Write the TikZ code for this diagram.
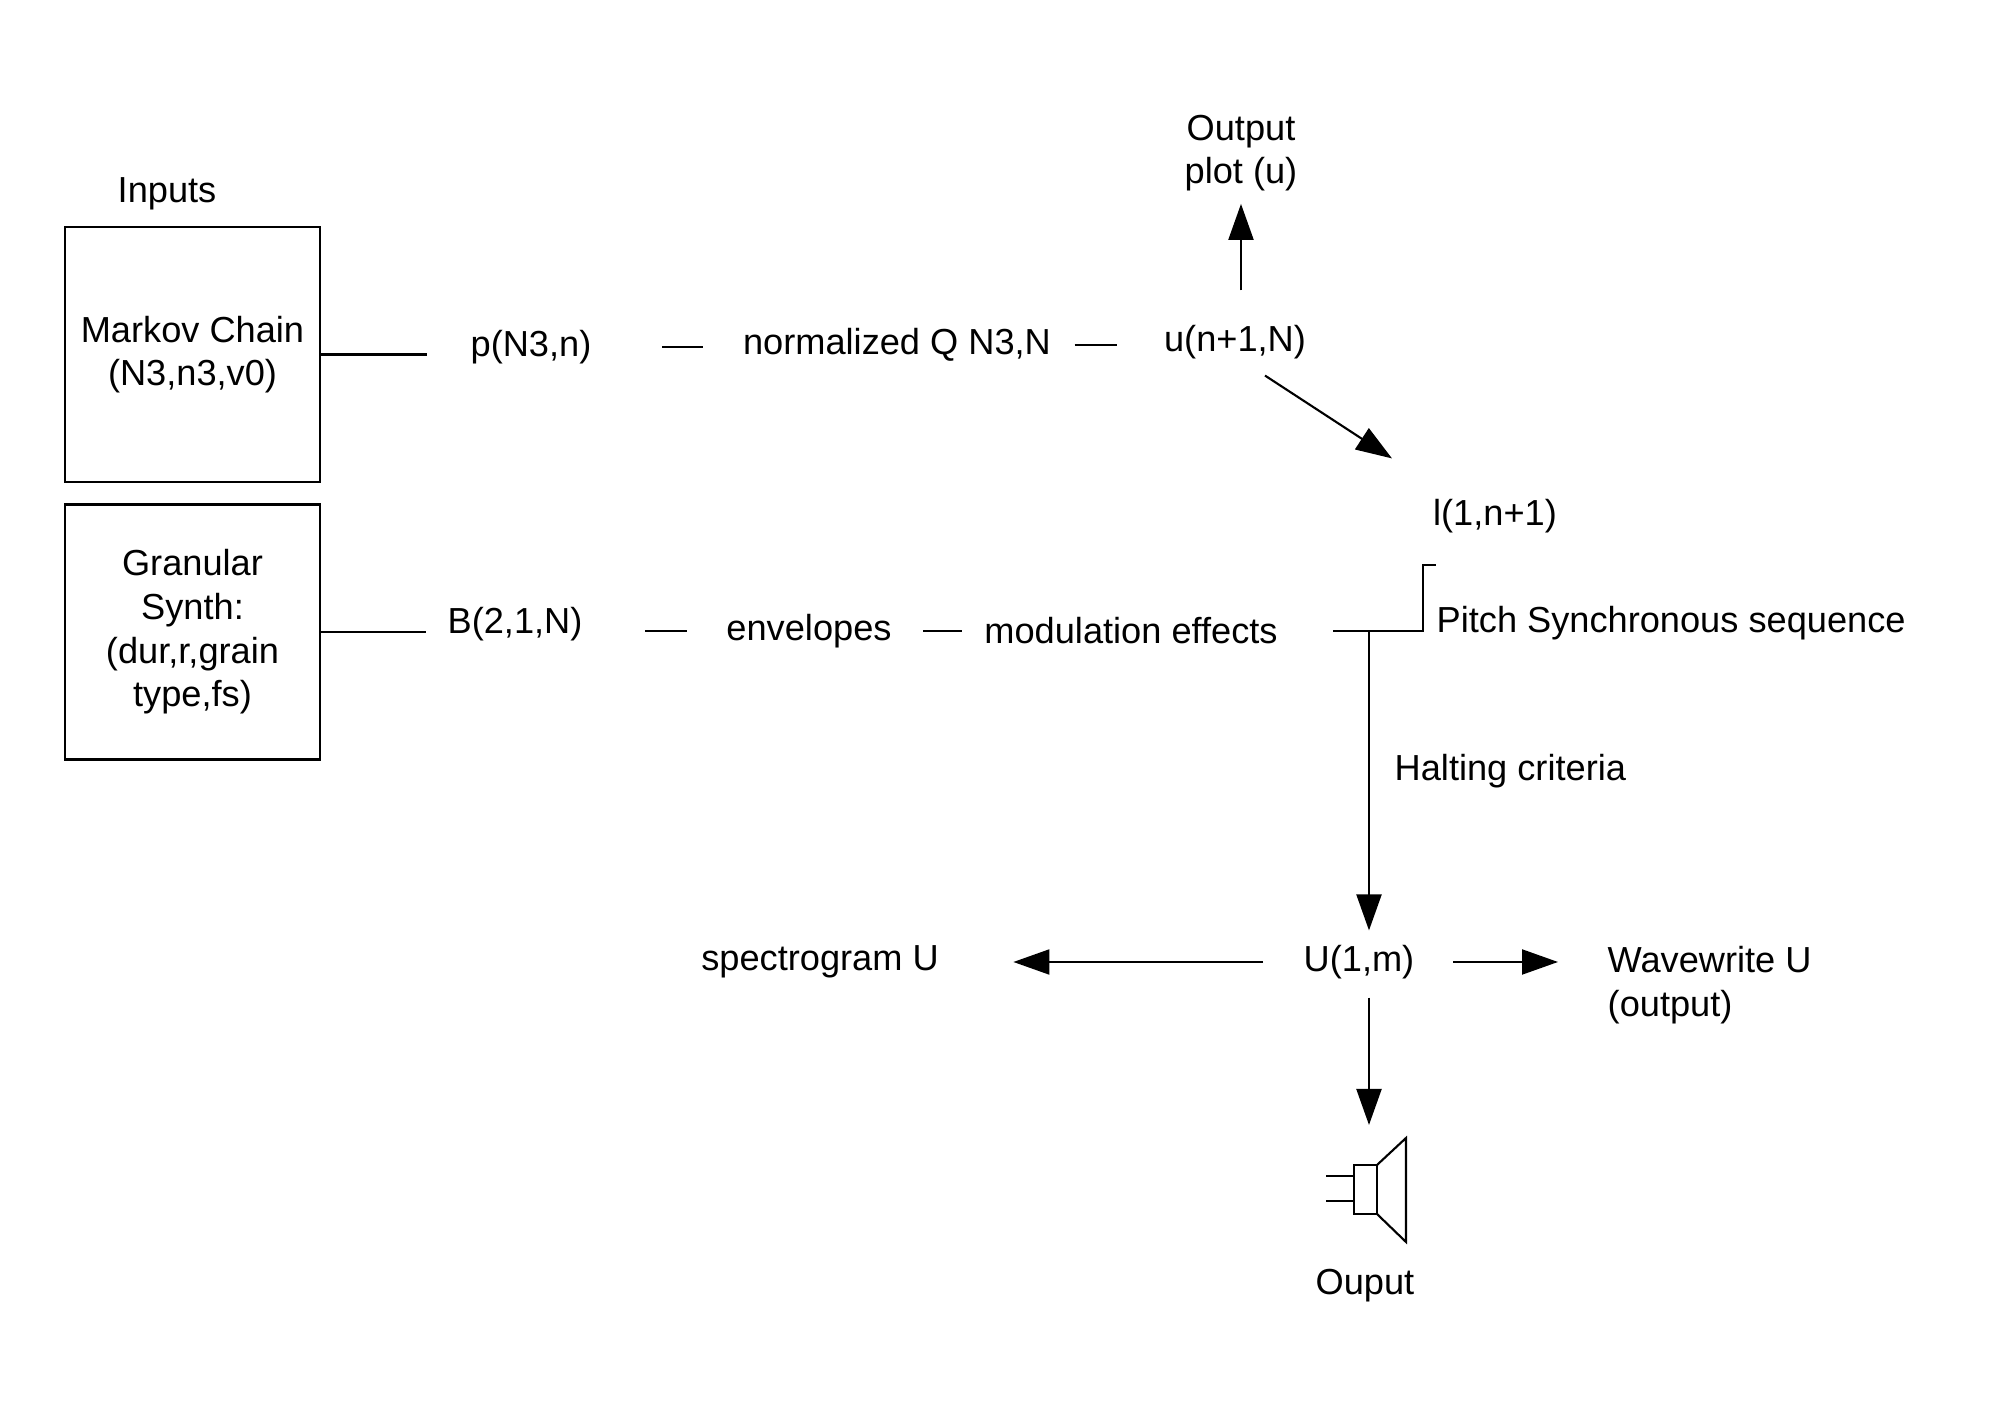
\documentclass[tikz,border=0pt]{standalone}
\usepackage{fontspec}
\setmainfont{Liberation Sans}
\usetikzlibrary{calc,arrows.meta}
\tikzset{
	lbl/.style={inner sep=0pt, font=\fontsize{10.3}{12.4}\selectfont, align=center},
	inbox/.style={draw, line width=0.7pt, minimum width=2.55cm, minimum height=2.55cm, inner sep=0pt, font=\fontsize{10.3}{12.4}\selectfont, align=center},
	wire/.style={line width=0.6pt},
	flow/.style={wire, -{Triangle[length=0.36cm,width=0.25cm]}}
}

\begin{document}
\begin{tikzpicture}
			%%%%% START %%%%%
			\useasboundingbox (0,0) rectangle (19.99,14.11);
			
			\node[lbl] (inputs) at (1.67, 12.17) {Inputs};
			\node[inbox] (markov) at (1.925, 10.565) {Markov Chain\\(N3,n3,v0)};
			\node[inbox] (granular) at (1.925, 7.79) {Granular\\Synth:\\(dur,r,grain\\type,fs)};
			
			\node[lbl] (pN) at (5.31, 10.64) {p(N3,n)};
			\node[lbl] (normQ) at (8.97, 10.66) {normalized Q N3,N};
			\node[lbl] (u) at (12.35, 10.69) {u(n+1,N)};
			\node[lbl] (out) at (12.41, 12.58) {Output\\plot (u)};
			\node[lbl] (l) at (14.95, 8.95) {l(1,n+1)};
			
			\node[lbl] (B) at (5.15, 7.87) {B(2,1,N)};
			\node[lbl] (env) at (8.09, 7.80) {envelopes};
			\node[lbl] (mod) at (11.31, 7.80) {modulation effects};
			\node[lbl, anchor=west] (pitch) at (14.36, 7.88) {Pitch Synchronous sequence};
			\node[lbl, anchor=west] (halt) at (13.94, 6.40) {Halting criteria};
			
			\node[lbl] (U) at (13.59, 4.49) {U(1,m)};
			\node[lbl] (spec) at (8.20, 4.49) {spectrogram U};
			\node[lbl, anchor=west, align=left] (wave) at (16.07, 4.26) {Wavewrite U\\(output)};
			\node[lbl] (ouput) at (13.65, 1.25) {Ouput};
			
			\coordinate (split) at (13.69, 7.80);
			\coordinate (spktop) at (13.69, 2.86);
			\coordinate (spk) at (13.54, 1.97);
			
			\draw[wire, shorten >=0.43cm] (markov.east) -- (markov.east -| pN.west);
			\draw[wire, shorten <=0.70cm, shorten >=0.39cm] (pN.east) -- (pN.east -| normQ.west);
			\draw[wire, shorten <=0.23cm, shorten >=0.46cm] (normQ.east) -- (normQ.east -| u.west);
			\draw[flow, shorten <=0.34cm, shorten >=0.12cm] (out.south |- u.north) -- (out.south);
			\draw[flow] ([xshift=0.30cm, yshift=-0.16cm]u.south) -- ([xshift=-1.03cm, yshift=0.40cm]l.north);
			
			\draw[wire, shorten >=0.21cm] (granular.east) -- (granular.east -| B.west);
			\draw[wire, shorten <=0.62cm, shorten >=0.39cm] (B.east |- env.west) -- (env.west);
			\draw[wire, shorten <=0.31cm, shorten >=0.22cm] (env.east) -- (mod.west);
			\draw[wire] ([xshift=0.55cm]mod.east) -- (split) -- ++(0.54,0) |- ([yshift=0.40cm]pitch.north west);
			\draw[flow, shorten >=0.14cm] (split) -- (split |- U.north);
			
			\draw[flow, shorten <=0.40cm, shorten >=0.74cm] (U.west) -- (U.west -| spec.east);
			\draw[flow, shorten <=0.38cm, shorten >=0.49cm] (U.east) -- (U.east -| wave.west);
			\draw[flow, shorten <=0.18cm] (U.south -| split) -- (spktop);
			
			\draw[wire] (spk) rectangle ++(0.23, 0.49);
			\draw[wire] ($(spk)+(0.23,0.49)$) -- ($(spk)+(0.52,0.76)$) -- ($(spk)+(0.52,-0.28)$) -- ($(spk)+(0.23,0)$);
			\draw[wire] ($(spk)+(0,0.38)$) -- ++(-0.28,0);
			\draw[wire] ($(spk)+(0,0.13)$) -- ++(-0.28,0);
			%%%%% END %%%%%
		\end{tikzpicture}
\end{document}
